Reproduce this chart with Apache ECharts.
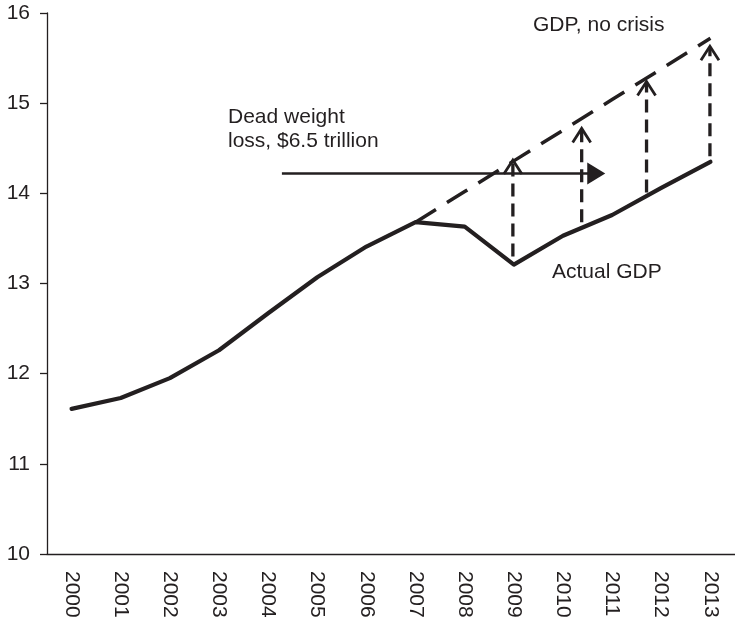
<!DOCTYPE html>
<html><head><meta charset="utf-8">
<script src="https://cdn.jsdelivr.net/npm/echarts@6/dist/echarts.min.js"></script>
<style>html,body{margin:0;padding:0;background:#fff}#c{width:735px;height:623px}</style>
</head><body><div id="c"></div>
<script>
const years = ['2000','2001','2002','2003','2004','2005','2006','2007','2008','2009','2010','2011','2012','2013'];
const actualGDP = [11.61,11.73,11.95,12.26,12.67,13.07,13.41,13.68,13.63,13.21,13.53,13.76,14.06,14.35];
const noCrisisGDP = [null,null,null,null,null,null,null,13.68,14.02,14.36,14.70,15.04,15.38,15.72];
// vertical "loss" arrows: position (category units), base value, tip value
const arrowX = [8.98,10.38,11.70,12.99];
const arrowBase = [13.30,13.68,14.01,14.41];
const arrowTip = [14.37,14.72,15.24,15.63];
// horizontal arrow: start, end (category units), level
const hArrowStart = 4.28, hArrowEnd = 10.86, hArrowLevel = 14.22;
const yTicks = {min:10, max:16, interval:1};

const INK = '#231f20';
const FONT = '"Liberation Sans", Arial, Helvetica, sans-serif';

const chart = echarts.init(document.getElementById('c'));
chart.setOption({
  animation:false,
  backgroundColor:'#fff',
  grid:{left:47, right:0, top:13, bottom:69, containLabel:false, outerBoundsMode:'none'},
  xAxis:[{
    type:'category', data:years, boundaryGap:true,
    axisLine:{onZero:false, lineStyle:{color:INK, width:1.3}},
    axisTick:{length:8, lineStyle:{color:INK, width:1.3}},
    axisLabel:{rotate:-90, margin:17, color:INK, fontSize:21, fontFamily:FONT, hideOverlap:false},
    splitLine:{show:false}
  },{
    type:'value', min:-0.5, max:13.5, show:false
  }],
  yAxis:{
    type:'value', min:yTicks.min, max:yTicks.max, interval:yTicks.interval,
    axisLine:{show:true, onZero:false, lineStyle:{color:INK, width:1.3}},
    axisTick:{show:true, length:7, lineStyle:{color:INK, width:1.3}},
    axisLabel:{margin:17, color:INK, fontSize:21, fontFamily:FONT},
    splitLine:{show:false}
  },
  series:[
    {type:'line', data:noCrisisGDP, symbol:'none', connectNulls:false,
     lineStyle:{color:INK, width:3.5, type:[24,13]}, z:2},
    {type:'line', data:actualGDP, symbol:'none',
     lineStyle:{color:INK, width:4.2, join:'round', cap:'round'}, z:3},
    {type:'custom', xAxisIndex:1, clip:false, z:4,
     data:arrowX.map((x,i)=>[x, arrowBase[i], arrowTip[i]]),
     renderItem:function(params, api){
       const p0 = api.coord([api.value(0), api.value(1)]);
       const p1 = api.coord([api.value(0), api.value(2)]);
       return {type:'group', children:[
         {type:'line', shape:{x1:p0[0], y1:p0[1], x2:p1[0], y2:p1[1]+2},
          style:{stroke:INK, lineWidth:3.3, lineDash:[13,7]}},
         {type:'polyline', shape:{points:[[p1[0]-9,p1[1]+14],[p1[0],p1[1]],[p1[0]+9,p1[1]+14]]},
          style:{stroke:INK, lineWidth:2.8, fill:null}}
       ]};
     }},
    {type:'custom', xAxisIndex:1, clip:false, z:5,
     data:[[hArrowStart, hArrowEnd, hArrowLevel]],
     renderItem:function(params, api){
       const a = api.coord([api.value(0), api.value(2)]);
       const b = api.coord([api.value(1), api.value(2)]);
       return {type:'group', children:[
         {type:'line', shape:{x1:a[0], y1:a[1], x2:b[0]-14, y2:b[1]},
          style:{stroke:INK, lineWidth:2.7}},
         {type:'polygon', shape:{points:[[b[0]-18,b[1]-11],[b[0],b[1]],[b[0]-18,b[1]+11]]},
          style:{fill:INK}}
       ]};
     }}
  ],
  graphic:[
    {type:'text', left:533, top:15, style:{text:'GDP, no crisis', fill:INK, font:'21px '+FONT}},
    {type:'text', left:228, top:105, style:{text:'Dead weight\nloss, $6.5 trillion', fill:INK, font:'21px '+FONT, lineHeight:24}},
    {type:'text', left:552, top:262, style:{text:'Actual GDP', fill:INK, font:'21px '+FONT}}
  ]
});
</script>
</body></html>
